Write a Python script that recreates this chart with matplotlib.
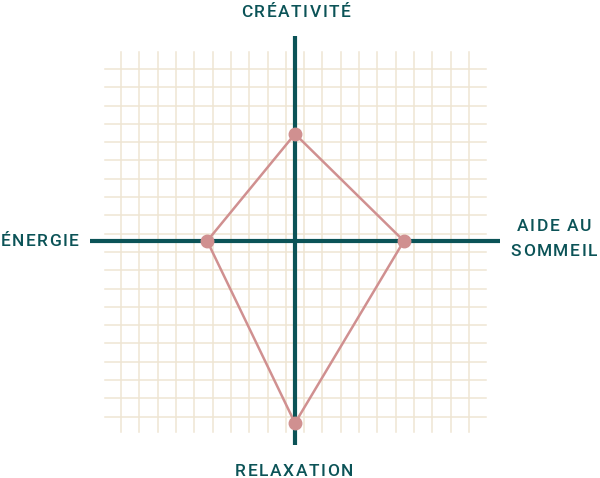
import matplotlib
matplotlib.use('Agg')
import matplotlib.pyplot as plt
from matplotlib import font_manager
from matplotlib.ft2font import FT2Font

# axis labels and values (grid units from the centre)
labels = ['CRÉATIVITÉ', 'AIDE AU\nSOMMEIL', 'RELAXATION', 'ÉNERGIE']
values = [5.85, 5.95, 9.95, 4.8]   # top, right, bottom, left

TEAL = '#0b5357'
PINK = '#d09090'
GRID = '#efe5d3'

fig = plt.figure(figsize=(6, 4.78), dpi=100)
ax = fig.add_axes([0, 0, 1, 1])
ax.set_xlim(-295 / 18.3, 305 / 18.3)
ax.set_ylim(-237 / 18.3, 241 / 18.3)
ax.axis('off')

# light grid
for i in range(20):
    g = -9.5 + i
    ax.plot([g, g], [-10.45, 10.35], color=GRID, lw=1.1, zorder=1)
    ax.plot([-10.4, 10.45], [g - 0.1, g - 0.1], color=GRID, lw=1.1, zorder=1)

# main axes
ax.plot([0, 0], [-11.15, 11.2], color=TEAL, lw=3, zorder=2, solid_capstyle='butt')
ax.plot([-11.2, 11.2], [0, 0], color=TEAL, lw=3, zorder=2, solid_capstyle='butt')

# kite shape
xs = [0, values[1], 0, -values[3], 0]
ys = [values[0], 0, -values[2], 0, values[0]]
ax.plot(xs, ys, color=PINK, lw=1.8, zorder=3)
ax.plot(xs[:4], ys[:4], 'o', color=PINK, ms=9, zorder=4)

FS = 12.5
fp = font_manager.FontProperties(family='Roboto', weight='medium', size=FS)
font = FT2Font(font_manager.findfont(fp))
font.set_size(FS, 72)


def spaced_text(x, y, s, spacing=1.1):
    # draw text with letter spacing, centred on (x, y)
    adv = []
    for ch in s:
        g = font.load_char(ord(ch))
        adv.append(g.linearHoriAdvance / 65536)
    total = sum(adv) + spacing * (len(s) - 1)
    off = -total / 2
    for ch, a in zip(s, adv):
        ax.annotate(ch, xy=(x, y), xytext=(off, 0), textcoords='offset points',
                    ha='left', va='center', fontproperties=fp, color=TEAL)
        off += a + spacing


spaced_text(0.05, 12.5, labels[0])
spaced_text(-0.05, -12.6, labels[2])
spaced_text(-13.95, -0.05, labels[3])
top, bottom = labels[1].split('\n')
spaced_text(14.15, 0.8, top)
spaced_text(14.15, -0.6, bottom)

fig.savefig('out.png', dpi=100)
